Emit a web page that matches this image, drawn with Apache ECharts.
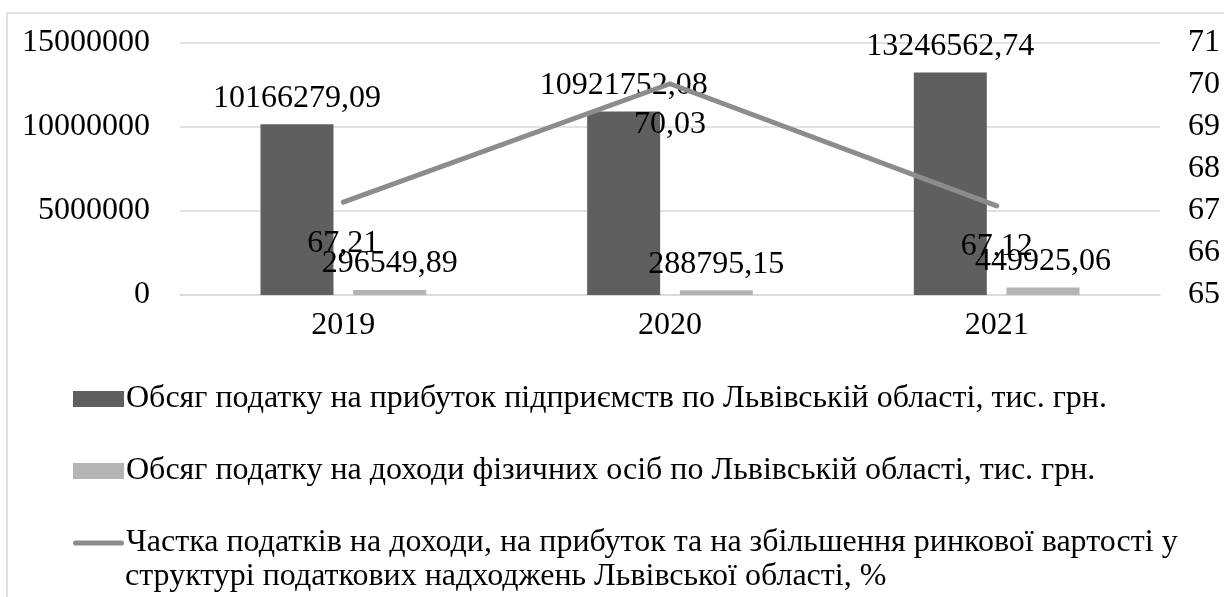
<!DOCTYPE html>
<html>
<head>
<meta charset="utf-8">
<script src="https://cdn.jsdelivr.net/npm/echarts@6/dist/echarts.min.js"></script>
<style>
html,body{margin:0;padding:0;background:#fff;}
#c{width:1224px;height:597px;}
</style>
</head>
<body>
<div id="c"></div>
<script>
var categories = ['2019', '2020', '2021'];
var profitTax = [10166279.09, 10921752.08, 13246562.74];
var incomeTax = [296549.89, 288795.15, 449925.06];
var taxShare = [67.21, 70.03, 67.12];
var leftTicks = {min: 0, max: 15000000, interval: 5000000};
var rightTicks = {min: 65, max: 71, interval: 1};
var names = [
  'Обсяг податку на прибуток підприємств по Львівській області, тис. грн.',
  'Обсяг податку на доходи фізичних осіб по Львівській області, тис. грн.',
  'Частка податків на доходи, на прибуток та на збільшення ринкової вартості у'
];
var nameLine2 = 'структурі податкових надходжень Львівської області, %';

var FONT = 'Liberation Serif';
var FS = 32;
function fmt(p){ return p.value.toFixed(2).replace('.', ','); }

var chart = echarts.init(document.getElementById('c'), null, {renderer: 'canvas'});
chart.setOption({
  animation: false,
  backgroundColor: '#ffffff',
  textStyle: {fontFamily: FONT, color: '#000'},
  grid: {left: 180, right: 64, top: 43, bottom: 302, containLabel: false},
  graphic: [
    {type: 'rect', shape: {x: 7, y: 13, width: 1240, height: 620}, style: {fill: 'none', stroke: '#d9d9d9', lineWidth: 1.5}, silent: true, z: -10},
    {type: 'text', left: 125, top: 561, style: {text: nameLine2, font: FS + 'px "Liberation Serif"', fill: '#000'}}
  ],
  legend: {
    orient: 'vertical',
    left: 68,
    top: 378,
    itemWidth: 51,
    itemHeight: 16,
    itemGap: 40,
    textStyle: {fontFamily: FONT, fontSize: FS, color: '#000', lineHeight: 32, padding: [0,0,0,-3]},
    data: [
      {name: names[0], icon: 'rect'},
      {name: names[1], icon: 'rect'},
      {name: names[2], icon: 'path://M2.5,0L47.5,0A2.5,2.5,0,0,1,47.5,5L2.5,5A2.5,2.5,0,0,1,2.5,0Z', itemStyle: {color: '#8c8c8c'}}
    ]
  },
  xAxis: {
    type: 'category',
    data: categories,
    axisLine: {lineStyle: {color: '#d9d9d9', width: 1.5}},
    axisTick: {show: false},
    axisLabel: {fontFamily: FONT, fontSize: FS, color: '#000', margin: 15}
  },
  yAxis: [
    {
      type: 'value', min: leftTicks.min, max: leftTicks.max, interval: leftTicks.interval,
      axisLine: {show: false}, axisTick: {show: false},
      splitLine: {lineStyle: {color: '#d9d9d9', width: 1.5}},
      axisLabel: {fontFamily: FONT, fontSize: FS, color: '#000', margin: 30, padding: [5,0,0,0], formatter: function(v){ return String(v); }}
    },
    {
      type: 'value', min: rightTicks.min, max: rightTicks.max, interval: rightTicks.interval,
      position: 'right',
      axisLine: {show: false}, axisTick: {show: false},
      splitLine: {show: false},
      axisLabel: {fontFamily: FONT, fontSize: FS, color: '#000', margin: 28, padding: [5,0,0,0]}
    }
  ],
  series: [
    {
      name: names[0], type: 'bar', data: profitTax, yAxisIndex: 0,
      barWidth: 73, barGap: '27%',
      itemStyle: {color: '#5f5f5f'},
      label: {show: true, position: 'top', distance: 10, formatter: fmt, fontFamily: FONT, fontSize: FS, color: '#000'}
    },
    {
      name: names[1], type: 'bar', data: incomeTax, yAxisIndex: 0,
      barWidth: 73, barGap: '27%',
      itemStyle: {color: '#b4b4b4'},
      label: {show: true, position: 'top', distance: 10, formatter: fmt, fontFamily: FONT, fontSize: FS, color: '#000'}
    },
    {
      name: names[2], type: 'line', data: taxShare, yAxisIndex: 1,
      symbol: 'circle', symbolSize: 0.1, showSymbol: true,
      lineStyle: {color: '#8c8c8c', width: 5, cap: 'round', join: 'round'},
      itemStyle: {color: '#8c8c8c'},
      label: {show: true, position: 'bottom', distance: 25, formatter: fmt, fontFamily: FONT, fontSize: FS, color: '#000'},
      z: 5
    }
  ]
});
</script>
</body>
</html>
